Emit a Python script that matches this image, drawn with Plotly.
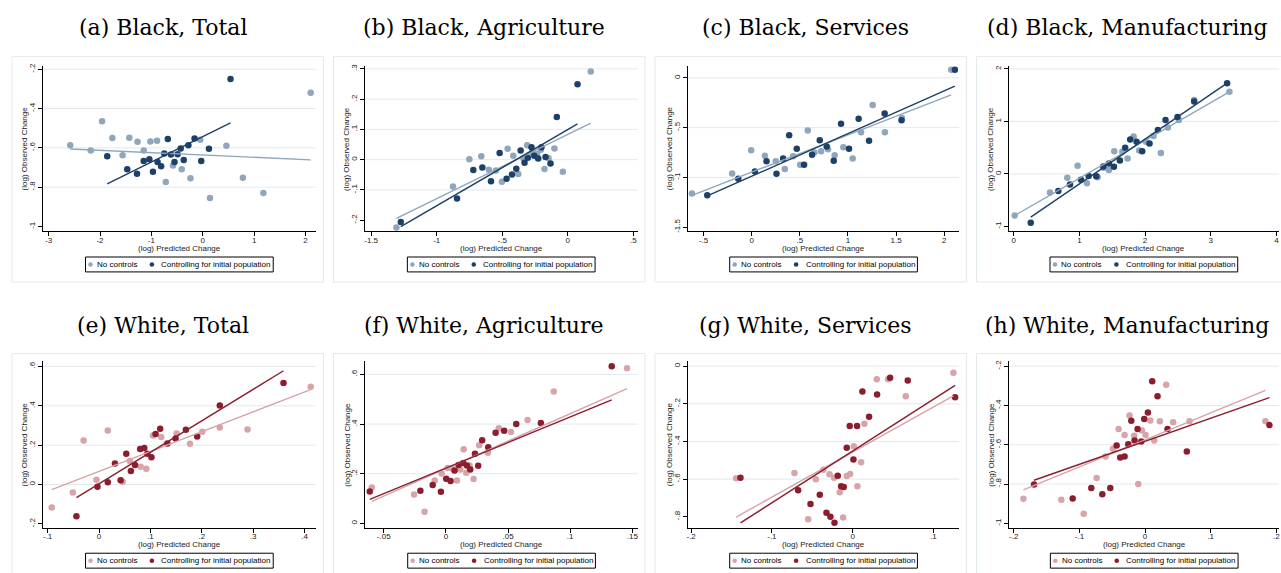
import plotly.graph_objects as go

# ---------------------------------------------------------------- data
panel_titles = [
    "(a) Black, Total", "(b) Black, Agriculture", "(c) Black, Services", "(d) Black, Manufacturing",
    "(e) White, Total", "(f) White, Agriculture", "(g) White, Services", "(h) White, Manufacturing",
]
legend_labels = ["No controls", "Controlling for initial population"]
x_title = "(log) Predicted Change"
y_title = "(log) Observed Change"

# (a) Black, Total
bt_nc_x = [-2.58, -2.18, -1.96, -1.76, -1.56, -1.43, -1.27, -1.15, -1.02, -0.89, -0.72, -0.58, -0.41, -0.24, -0.05, 0.14, 0.46, 0.78, 1.18, 2.10]
bt_nc_y = [-.587, -.613, -.464, -.550, -.638, -.549, -.569, -.613, -.568, -.564, -.773, -.690, -.709, -.754, -.559, -.855, -.589, -.752, -.830, -.320]
bt_ctl_x = [-1.86, -1.47, -1.28, -1.15, -1.04, -0.97, -0.88, -0.81, -0.75, -0.68, -0.62, -0.55, -0.49, -0.43, -0.37, -0.28, -0.16, -0.03, 0.12, 0.54]
bt_ctl_y = [-.643, -.709, -.731, -.667, -.658, -.722, -.672, -.694, -.628, -.555, -.634, -.672, -.633, -.603, -.662, -.587, -.552, -.667, -.604, -.249]

# (b) Black, Agriculture
ba_nc_x = [-1.307, -0.876, -0.751, -0.660, -0.602, -0.548, -0.503, -0.459, -0.416, -0.378, -0.338, -0.310, -0.272, -0.234, -0.206, -0.178, -0.147, -0.102, -0.038, 0.175]
ba_nc_y = [-.224, -.089, .001, .011, -.033, -.036, -.073, .036, .013, -.047, .004, .048, .024, .019, .033, -.031, .005, .037, -.040, .291]
ba_ctl_x = [-1.274, -0.845, -0.721, -0.652, -0.586, -0.520, -0.467, -0.426, -0.393, -0.360, -0.330, -0.305, -0.277, -0.256, -0.226, -0.201, -0.170, -0.132, -0.084, 0.074]
ba_ctl_y = [-.206, -.128, -.034, -.026, -.071, .022, -.063, -.049, -.030, .030, -.010, .006, .041, .013, .004, .041, .009, -.013, .141, .249]

# (c) Black, Services
bs_nc_x = [-0.621, -0.203, -0.006, 0.136, 0.250, 0.344, 0.430, 0.503, 0.582, 0.651, 0.721, 0.793, 0.862, 0.952, 1.049, 1.136, 1.257, 1.384, 1.561, 2.073]
bs_nc_y = [-1.163, -.960, -.727, -.783, -.837, -.917, -.787, -.873, -.530, -.750, -.737, -.717, -.777, -.697, -.810, -.547, -.273, -.547, -.403, .083]
bs_ctl_x = [-0.462, -0.140, 0.033, 0.154, 0.257, 0.326, 0.389, 0.468, 0.544, 0.627, 0.707, 0.779, 0.852, 0.928, 1.011, 1.111, 1.219, 1.381, 1.557, 2.111]
bs_ctl_y = [-1.180, -1.013, -.940, -.837, -.963, -.810, -.577, -.713, -.873, -.773, -.627, -.690, -.833, -.460, -.713, -.410, -.633, -.357, -.427, .083]

# (d) Black, Manufacturing
bm_nc_x = [0.015, 0.553, 0.816, 0.973, 1.115, 1.278, 1.369, 1.450, 1.531, 1.653, 1.734, 1.825, 1.911, 2.013, 2.129, 2.241, 2.347, 2.515, 2.748, 3.285]
bm_nc_y = [-.792, -.356, -.072, .156, -.179, -.065, .118, .074, .434, .421, .295, .712, .446, .611, .724, .396, .882, 1.027, 1.406, 1.564]
bm_ctl_x = [0.259, 0.679, 0.857, 1.024, 1.141, 1.257, 1.364, 1.450, 1.526, 1.617, 1.698, 1.774, 1.871, 1.957, 2.068, 2.195, 2.312, 2.494, 2.748, 3.250]
bm_ctl_y = [-.931, -.324, -.204, -.110, -.040, -.046, .143, .200, .137, .257, .497, .655, .611, .434, .579, .838, 1.027, 1.084, 1.381, 1.728]

# (e) White, Total
wt_nc_x = [-0.092, -0.051, -0.030, -0.005, 0.017, 0.046, 0.060, 0.081, 0.092, 0.105, 0.121, 0.151, 0.177, 0.201, 0.235, 0.289, 0.412]
wt_nc_y = [-.117, -.041, .224, .024, .274, .014, .119, .090, .080, .249, .241, .259, .207, .268, .289, .279, .497]
wt_ctl_x = [-0.044, -0.003, 0.017, 0.031, 0.042, 0.053, 0.062, 0.070, 0.080, 0.088, 0.094, 0.102, 0.110, 0.119, 0.133, 0.149, 0.169, 0.191, 0.235, 0.359]
wt_ctl_y = [-.161, -.011, .011, .107, .021, .156, .068, .099, .180, .185, .156, .139, .256, .283, .208, .234, .278, .244, .401, .516]

# (f) White, Agriculture
wa_nc_x = [-0.0596, -0.0256, -0.0171, -0.0090, -0.0034, 0.0014, 0.0049, 0.0089, 0.0116, 0.0143, 0.0164, 0.0191, 0.0223, 0.0268, 0.0338, 0.0426, 0.0523, 0.0657, 0.0868, 0.1457]
wa_nc_y = [.145, .116, .047, .173, .201, .223, .221, .173, .217, .299, .204, .233, .179, .315, .284, .383, .368, .416, .531, .625]
wa_ctl_x = [-0.0612, -0.0205, -0.0106, -0.0040, 0.0003, 0.0038, 0.0070, 0.0102, 0.0140, 0.0169, 0.0196, 0.0234, 0.0260, 0.0292, 0.0341, 0.0400, 0.0469, 0.0566, 0.0764, 0.1334]
wa_ctl_y = [.128, .131, .155, .127, .180, .171, .213, .235, .243, .233, .217, .280, .232, .335, .307, .365, .373, .400, .404, .633]

# (g) White, Services
ws_nc_x = [-0.1443, -0.0721, -0.0551, -0.0456, -0.0362, -0.0287, -0.0229, -0.0159, -0.0118, -0.0073, -0.0031, 0.0014, 0.0059, 0.0105, 0.0146, 0.0299, 0.0439, 0.0658, 0.1248]
ws_nc_y = [-.596, -.568, -.814, -.601, -.550, -.575, -.593, -.670, -.804, -.584, -.573, -.425, -.638, -.510, -.306, -.070, -.070, -.160, -.035]
ws_ctl_x = [-0.1389, -0.0675, -0.0522, -0.0407, -0.0324, -0.0275, -0.0225, -0.0184, -0.0143, -0.0110, -0.0073, -0.0036, 0.0010, 0.0055, 0.0121, 0.0204, 0.0303, 0.0464, 0.0683, 0.1269]
ws_ctl_y = [-.593, -.659, -.733, -.684, -.779, -.800, -.832, -.582, -.638, -.642, -.434, -.318, -.496, -.318, -.135, -.269, -.151, -.062, -.076, -.165]

# (h) White, Manufacturing
wm_nc_x = [-0.1853, -0.1275, -0.0935, -0.0738, -0.0601, -0.0489, -0.0403, -0.0312, -0.0236, -0.0165, -0.0104, -0.0048, 0.0008, 0.0079, 0.0139, 0.0226, 0.0322, 0.0428, 0.0677, 0.1833]
wm_nc_y = [-.875, -.880, -.951, -.769, -.660, -.621, -.520, -.550, -.451, -.554, -.800, -.527, -.550, -.476, -.579, -.480, -.294, -.486, -.480, -.480]
wm_ctl_x = [-0.1691, -0.1103, -0.0819, -0.0651, -0.0530, -0.0433, -0.0378, -0.0312, -0.0256, -0.0210, -0.0160, -0.0114, -0.0058, -0.0013, 0.0043, 0.0109, 0.0190, 0.0342, 0.0636, 0.1894]
wm_ctl_y = [-.803, -.874, -.820, -.852, -.820, -.604, -.665, -.660, -.597, -.478, -.579, -.520, -.584, -.469, -.436, -.277, -.353, -.520, -.635, -.500]

# linear fits (intercept, slope) per panel, a..h
fit_nc_intercept = [-.6363, .0838, -.9472, -.8028, .0667, .2208, -.4567, -.5751]
fit_nc_slope = [-.01175, .2126, .3749, .7205, 1.008, 2.2114, 2.3932, 1.3755]
fit_ctl_intercept = [-.5428, .0994, -.9888, -1.0439, .0034, .2228, -.451, -.5824]
fit_ctl_slope = [.1292, .2515, .4291, .8529, 1.6005, 2.0555, 2.7502, 1.1743]

# axis ticks per panel
x_ticks = [
    [-3, -2, -1, 0, 1, 2], [-1.5, -1, -.5, 0, .5], [-.5, 0, .5, 1, 1.5, 2], [0, 1, 2, 3, 4],
    [-.1, 0, .1, .2, .3, .4], [-.05, 0, .05, .1, .15], [-.2, -.1, 0, .1], [-.2, -.1, 0, .1, .2],
]
y_ticks = [
    [-1, -.8, -.6, -.4, -.2], [-.2, -.1, 0, .1, .2, .3], [-1.5, -1, -.5, 0], [-1, 0, 1, 2],
    [-.2, 0, .2, .4, .6], [0, .2, .4, .6], [-.8, -.6, -.4, -.2, 0], [-1, -.8, -.6, -.4, -.2],
]

series = [
    (bt_nc_x, bt_nc_y, bt_ctl_x, bt_ctl_y), (ba_nc_x, ba_nc_y, ba_ctl_x, ba_ctl_y),
    (bs_nc_x, bs_nc_y, bs_ctl_x, bs_ctl_y), (bm_nc_x, bm_nc_y, bm_ctl_x, bm_ctl_y),
    (wt_nc_x, wt_nc_y, wt_ctl_x, wt_ctl_y), (wa_nc_x, wa_nc_y, wa_ctl_x, wa_ctl_y),
    (ws_nc_x, ws_nc_y, ws_ctl_x, ws_ctl_y), (wm_nc_x, wm_nc_y, wm_ctl_x, wm_ctl_y),
]

# ---------------------------------------------------------------- layout geometry (pixels)
W, H = 1281, 573
x_ranges = [
    [-3.105, 2.194], [-1.549, 0.533], [-0.663, 2.156], [-0.076, 4.04],
    [-0.1086, 0.4213], [-0.0647, 0.1543], [-0.204, 0.132], [-0.2066, 0.204],
]
y_ranges = [
    [-1.025, -0.181], [-0.237, 0.311], [-1.543, 0.124], [-1.095, 2.064],
    [-0.219, 0.625], [-0.017, 0.652], [-0.858, 0.025], [-1.022, -0.176],
]
plot_px_x = [
    (42.3, 315), (364.3, 637.7), (688, 959.7), (1009.3, 1280),
    (42.3, 315), (365, 637.7), (688, 959.7), (1010, 1280),
]
row_px_y = [(63, 230), (361, 528.3)]
box_left = [11, 333, 655, 977]
box_w = 312
box_rows = [(54, 281), (353, 582)]
title_y = [25, 325]

palette = {
    "black": ("#8fa6bc", "#1c4068"),
    "white": ("#d6a4a9", "#8c1d2d"),
}
GRID = "#e2e9ee"
BOX = "#e3eaee"
SANS = "Liberation Sans, Arial, sans-serif"
SERIF = "DejaVu Serif, serif"


def px(x):
    return x / W


def py(y):
    return 1 - y / H


def stata_label(v):
    s = f"{v:g}"
    if s.startswith("0."):
        s = s[1:]
    elif s.startswith("-0."):
        s = "-" + s[2:]
    return s


fig = go.Figure()
shapes, annotations = [], []
layout_axes = {}

for i in range(8):
    row, col = divmod(i, 4)
    n = "" if i == 0 else str(i + 1)
    xa, ya = "x" + n, "y" + n
    light, dark = palette["black" if row == 0 else "white"]
    x0p, x1p = plot_px_x[i]
    top, bot = row_px_y[row]

    # outer panel frame
    bl = box_left[col]
    bt, bb = box_rows[row]
    shapes.append(dict(type="rect", xref="paper", yref="paper",
                       x0=px(bl), x1=px(bl + box_w), y0=py(bb), y1=py(bt),
                       line=dict(color=BOX, width=1), fillcolor="rgba(0,0,0,0)", layer="below"))

    # horizontal gridlines (none at the lowest tick, next to the axis)
    for v in y_ticks[i][1:]:
        shapes.append(dict(type="line", xref=xa + " domain", yref=ya, x0=0, x1=1, y0=v, y1=v,
                           line=dict(color=GRID, width=1), layer="below"))

    nc_x, nc_y, ctl_x, ctl_y = series[i]
    fig.add_trace(go.Scatter(x=nc_x, y=nc_y, mode="markers", xaxis=xa, yaxis=ya,
                             marker=dict(color=light, size=6.5, line=dict(width=0)),
                             showlegend=False, hoverinfo="skip"))
    fig.add_trace(go.Scatter(x=ctl_x, y=ctl_y, mode="markers", xaxis=xa, yaxis=ya,
                             marker=dict(color=dark, size=6.5, line=dict(width=0)),
                             showlegend=False, hoverinfo="skip"))
    # fitted lines over each series' x-range
    for xs, a, b, c in ((nc_x, fit_nc_intercept[i], fit_nc_slope[i], light),
                        (ctl_x, fit_ctl_intercept[i], fit_ctl_slope[i], dark)):
        lx = [min(xs), max(xs)]
        fig.add_trace(go.Scatter(x=lx, y=[a + b * v for v in lx], mode="lines",
                                 xaxis=xa, yaxis=ya, line=dict(color=c, width=1.4),
                                 showlegend=False, hoverinfo="skip"))

    common = dict(showline=True, linecolor="#000000", linewidth=1, ticks="outside",
                  ticklen=4, tickwidth=1, tickcolor="#000000", showgrid=False,
                  zeroline=False, tickfont=dict(family=SANS, size=8, color="#222222"),
                  tickmode="array")
    layout_axes["xaxis" + n] = dict(common, domain=[px(x0p), px(x1p)], range=x_ranges[i],
                                    anchor=ya, tickvals=x_ticks[i], ticklabelstandoff=-3,
                                    ticktext=[stata_label(v) for v in x_ticks[i]])
    layout_axes["yaxis" + n] = dict(common, domain=[py(bot), py(top)], range=y_ranges[i],
                                    anchor=xa, tickvals=y_ticks[i], tickangle=-90,
                                    ticktext=[stata_label(v) for v in y_ticks[i]])

    # axis titles
    cx = (x0p + x1p) / 2
    annotations.append(dict(text=x_title, xref="paper", yref="paper", x=px(cx), y=py(bot + 17),
                            showarrow=False, xanchor="center", yanchor="middle",
                            font=dict(family=SANS, size=8, color="#222222")))
    annotations.append(dict(text=y_title, xref="paper", yref="paper", x=px(x0p - 18.3),
                            y=py((top + bot) / 2), textangle=-90, showarrow=False,
                            xanchor="center", yanchor="middle",
                            font=dict(family=SANS, size=8, color="#222222")))

    # panel title
    annotations.append(dict(text=panel_titles[i], xref="paper", yref="paper",
                            x=px(bl + 151), y=py(title_y[row]), showarrow=False,
                            xanchor="center", yanchor="middle",
                            font=dict(family=SERIF, size=22, color="#000000")))

    # legend box under each panel
    lw, lh = 188, 15
    L = cx - lw / 2
    lc = bot + 33.3
    shapes.append(dict(type="rect", xref="paper", yref="paper", x0=px(L), x1=px(L + lw),
                       y0=py(lc + lh / 2), y1=py(lc - lh / 2),
                       line=dict(color="#000000", width=1), fillcolor="#ffffff"))
    for mx, tx, c, lab in ((L + 5, L + 9.5, light, legend_labels[0]),
                           (L + 66.5, L + 74, dark, legend_labels[1])):
        r = 2.3
        shapes.append(dict(type="circle", xref="paper", yref="paper",
                           x0=px(mx - r), x1=px(mx + r), y0=py(lc + r), y1=py(lc - r),
                           line=dict(width=0), fillcolor=c))
        annotations.append(dict(text=lab, xref="paper", yref="paper", x=px(tx), y=py(lc),
                                showarrow=False, xanchor="left", yanchor="middle",
                                font=dict(family=SANS, size=8, color="#000000")))

fig.update_layout(
    width=W, height=H, margin=dict(l=0, r=0, t=0, b=0),
    paper_bgcolor="#ffffff", plot_bgcolor="#ffffff",
    showlegend=False, shapes=shapes, annotations=annotations, **layout_axes,
)

fig.write_html("out.html")
